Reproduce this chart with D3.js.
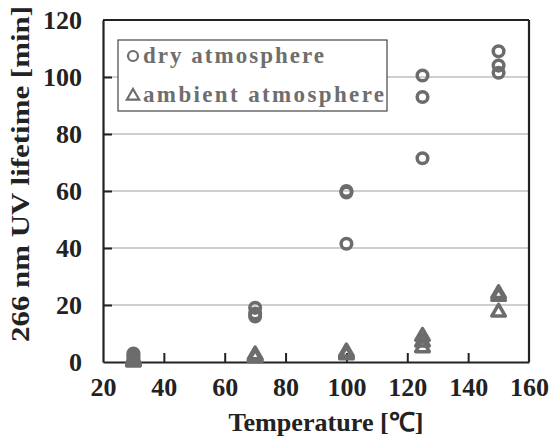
<!DOCTYPE html>
<html><head><meta charset="utf-8">
<script src="https://cdn.jsdelivr.net/npm/d3@7"></script>
<style>body{margin:0;background:#fff}svg{display:block}</style>
</head><body>
<script>
const xTicks = [20, 40, 60, 80, 100, 120, 140, 160];
const yTicks = [0, 20, 40, 60, 80, 100, 120];
const dryTemp = [30, 30, 30, 70, 70, 70, 100, 100, 100, 125, 125, 125, 150, 150, 150];
const dryLife = [3, 2, 1, 19, 17, 16, 60, 59.5, 41.5, 100.5, 93, 71.5, 109, 104, 101.5];
const ambTemp = [30, 30, 30, 70, 70, 70, 100, 100, 100, 125, 125, 125, 150, 150, 150];
const ambLife = [1, 0.5, 0, 2.5, 2, 1.5, 3.5, 3, 2.5, 9, 7, 5, 24, 23, 17.5];
const legendLabels = ["dry atmosphere", "ambient atmosphere"];
const xTitle = "Temperature [\u2103]";
const yTitle = "266 nm UV lifetime [min]";

const W = 552, H = 439;
const m = {l: 103, r: 23, t: 20, b: 77};
const svg = d3.select("body").append("svg").attr("width", W).attr("height", H);
const x = d3.scaleLinear().domain([20, 160]).range([m.l, W - m.r]);
const y = d3.scaleLinear().domain([0, 120]).range([H - m.b, m.t]);
const font = "'Liberation Serif', 'Times New Roman', serif";
const markColor = "#6c6c6c";

// gridlines
svg.append("g").selectAll("line").data(yTicks.filter(d => d > 0 && d < 120)).join("line")
  .attr("x1", x(20)).attr("x2", x(160)).attr("y1", d => y(d)).attr("y2", d => y(d))
  .attr("stroke", "#a0a0a0").attr("stroke-width", 1.2);

// axes
const xAxis = svg.append("g").attr("transform", `translate(0,${y(0)})`)
  .call(d3.axisBottom(x).tickValues(xTicks).tickSizeInner(-9).tickSizeOuter(0).tickPadding(16));
const yAxis = svg.append("g").attr("transform", `translate(${x(20)},0)`)
  .call(d3.axisLeft(y).tickValues(yTicks).tickSizeInner(-9).tickSizeOuter(0).tickPadding(21));
[xAxis, yAxis].forEach(g => {
  g.attr("font-family", null).attr("font-size", null);
  g.select(".domain").attr("stroke", "#222").attr("stroke-width", 2.2);
  g.selectAll(".tick line").attr("stroke", "#222").attr("stroke-width", 2);
  g.selectAll(".tick text").style("font-family", font).style("font-weight", "bold")
    .style("font-size", "26px").attr("fill", "#222");
});
xAxis.selectAll(".tick").filter(d => d === 20 || d === 160).select("line").remove();
yAxis.selectAll(".tick").filter(d => d === 0 || d === 120).select("line").remove();
// top and right border
svg.append("line").attr("x1", x(20)).attr("x2", x(160)).attr("y1", y(120)).attr("y2", y(120))
  .attr("stroke", "#222").attr("stroke-width", 2.2);
svg.append("line").attr("x1", x(160)).attr("x2", x(160)).attr("y1", y(120)).attr("y2", y(0))
  .attr("stroke", "#222").attr("stroke-width", 2.2);

// data
svg.append("g").selectAll("circle").data(dryTemp.map((t, i) => [t, dryLife[i]])).join("circle")
  .attr("cx", d => x(d[0])).attr("cy", d => y(d[1])).attr("r", 5.3)
  .attr("fill", "none").attr("stroke", markColor).attr("stroke-width", 3.5);
const tri = d3.symbol().type(d3.symbolTriangle).size(80);
svg.append("g").selectAll("path").data(ambTemp.map((t, i) => [t, ambLife[i]])).join("path")
  .attr("d", tri).attr("transform", d => `translate(${x(d[0])},${y(d[1])})`)
  .attr("fill", "none").attr("stroke", markColor).attr("stroke-width", 3.5).attr("stroke-linejoin", "round");

// legend
const lg = svg.append("g");
lg.append("rect").attr("x", 118).attr("y", 40).attr("width", 269).attr("height", 71)
  .attr("fill", "#fff").attr("stroke", "#444").attr("stroke-width", 1.2);
lg.append("circle").attr("cx", 133).attr("cy", 56).attr("r", 5).attr("fill", "none")
  .attr("stroke", markColor).attr("stroke-width", 2.2);
lg.append("path").attr("d", d3.symbol().type(d3.symbolTriangle).size(65))
  .attr("transform", "translate(133,96)").attr("fill", "none").attr("stroke", markColor).attr("stroke-width", 2.2);
const lw = [181, 241];
lg.selectAll("text").data(legendLabels).join("text")
  .attr("x", 143).attr("y", (d, i) => 63 + i * 39).text(d => d)
  .style("font-family", font).style("font-weight", "bold").style("font-size", "23px").attr("fill", "#6e6e6e")
  .attr("textLength", (d, i) => lw[i]).attr("lengthAdjust", "spacing");

// titles
svg.append("text").attr("x", 326).attr("y", 431).attr("text-anchor", "middle")
  .style("font-family", font).style("font-weight", "bold").style("font-size", "26px").attr("fill", "#222")
  .attr("textLength", 195).attr("lengthAdjust", "spacingAndGlyphs").text(xTitle);
svg.append("text").attr("transform", "translate(29,174) rotate(-90)").attr("text-anchor", "middle")
  .style("font-family", font).style("font-weight", "bold").style("font-size", "26px").attr("fill", "#222")
  .attr("textLength", 336).attr("lengthAdjust", "spacingAndGlyphs").text(yTitle);
</script>
</body></html>
